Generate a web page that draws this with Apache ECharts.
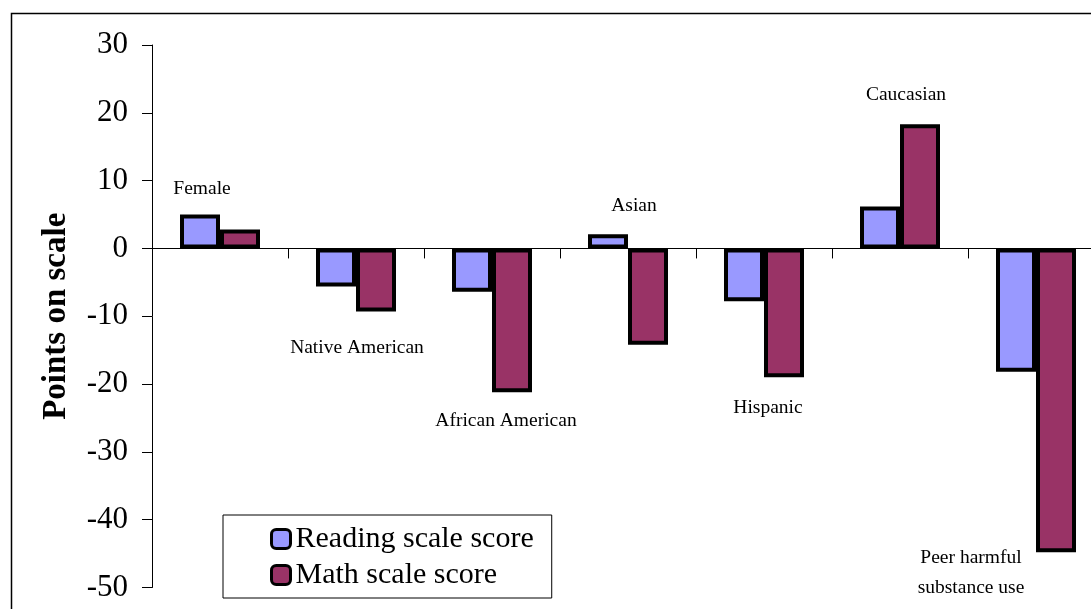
<!DOCTYPE html>
<html>
<head>
<meta charset="utf-8">
<script src="https://cdn.jsdelivr.net/npm/echarts@6/dist/echarts.min.js"></script>
<style>
  html, body { margin: 0; padding: 0; background: #fff; overflow: hidden; }
  #chart { width: 1120px; height: 609px; }
</style>
</head>
<body>
<div id="chart"></div>
<script>
// Group names shown next to each pair of bars
const categories = ['Female', 'Native American', 'African American', 'Asian', 'Hispanic', 'Caucasian', 'Peer harmful\nsubstance use'];
// Difference in points on each scale
const readingScores = [5.0, -5.6, -6.4, 2.1, -7.8, 6.2, -18.2];
const mathScores = [2.8, -9.3, -21.2, -14.2, -19.0, 18.3, -44.8];
const seriesNames = ['Reading scale score', 'Math scale score'];
const yTicks = { min: -50, max: 30, interval: 10 };

// Where each group name sits relative to its bars: above the tallest bar or below the deepest one
const labelSide = ['above', 'below', 'below', 'above', 'below', 'above', 'below'];
const labelOffsets = [[-18, -26], [1, 36], [14, 29], [6, -28], [4, 31], [6, -29], [-65, 21]];

const serif = '"Liberation Serif", "Times New Roman", serif';

const chart = echarts.init(document.getElementById('chart'), null, { renderer: 'canvas' });

const barStyle = (color) => ({ color: color, borderColor: '#000', borderWidth: 4 });

chart.setOption({
  backgroundColor: '#fff',
  animation: false,
  // the plot runs a little past the right edge of the visible page
  grid: { left: 152, top: 45, width: 952, height: 542.5, containLabel: false },
  legend: {
    data: seriesNames,
    orient: 'vertical',
    left: 223,
    top: 515,
    padding: [9, 18, 8, 47],
    backgroundColor: '#fff',
    borderColor: '#000',
    borderWidth: 1,
    itemWidth: 19,
    itemHeight: 19,
    itemGap: 6,
    itemStyle: { borderColor: '#000', borderWidth: 3 },
    textStyle: { fontFamily: serif, fontSize: 30, color: '#000', lineHeight: 30 }
  },
  xAxis: {
    type: 'category',
    data: categories,
    axisLine: { onZero: true, lineStyle: { color: '#000', width: 1 } },
    axisTick: { show: true, alignWithLabel: false, length: 10, lineStyle: { color: '#000', width: 1 } },
    axisLabel: { show: false },
    splitLine: { show: false }
  },
  yAxis: {
    type: 'value',
    min: yTicks.min,
    max: yTicks.max,
    interval: yTicks.interval,
    name: 'Points on scale',
    nameLocation: 'middle',
    nameGap: 79,
    nameTextStyle: { fontFamily: serif, fontSize: 33, fontWeight: 'bold', color: '#000' },
    axisLine: { show: true, lineStyle: { color: '#000', width: 1 } },
    axisTick: { show: true, length: 10, lineStyle: { color: '#000', width: 1 } },
    axisLabel: { fontFamily: serif, fontSize: 31, color: '#000', margin: 24 },
    splitLine: { show: false }
  },
  series: [
    {
      name: seriesNames[0],
      type: 'bar',
      data: readingScores,
      barWidth: 40,
      barGap: '0%',
      itemStyle: barStyle('#9999FF'),
      z: 2
    },
    {
      name: seriesNames[1],
      type: 'bar',
      data: mathScores,
      barWidth: 40,
      barGap: '0%',
      itemStyle: barStyle('#993366'),
      z: 2
    }
  ]
});

// Group names, placed through the chart's own scales next to each pair of bars
const groupLabels = categories.map((name, i) => {
  const r = readingScores[i], m = mathScores[i];
  const anchor = labelSide[i] === 'above' ? Math.max(0, r, m) : Math.min(0, r, m);
  const pt = chart.convertToPixel({ gridIndex: 0 }, [i, anchor]);
  return {
    type: 'text',
    x: pt[0] + labelOffsets[i][0],
    y: pt[1] + labelOffsets[i][1],
    silent: true,
    z: 5,
    style: {
      text: name,
      font: '19.5px ' + serif,
      fill: '#000',
      align: 'center',
      verticalAlign: 'middle',
      lineHeight: 30
    }
  };
});

chart.setOption({
  graphic: [{
    type: 'rect',
    shape: { x: 11.5, y: 13.5, width: 1200, height: 700 },
    style: { fill: 'none', stroke: '#000', lineWidth: 1.5 },
    silent: true,
    z: 0
  }].concat(groupLabels)
});
</script>
</body>
</html>
